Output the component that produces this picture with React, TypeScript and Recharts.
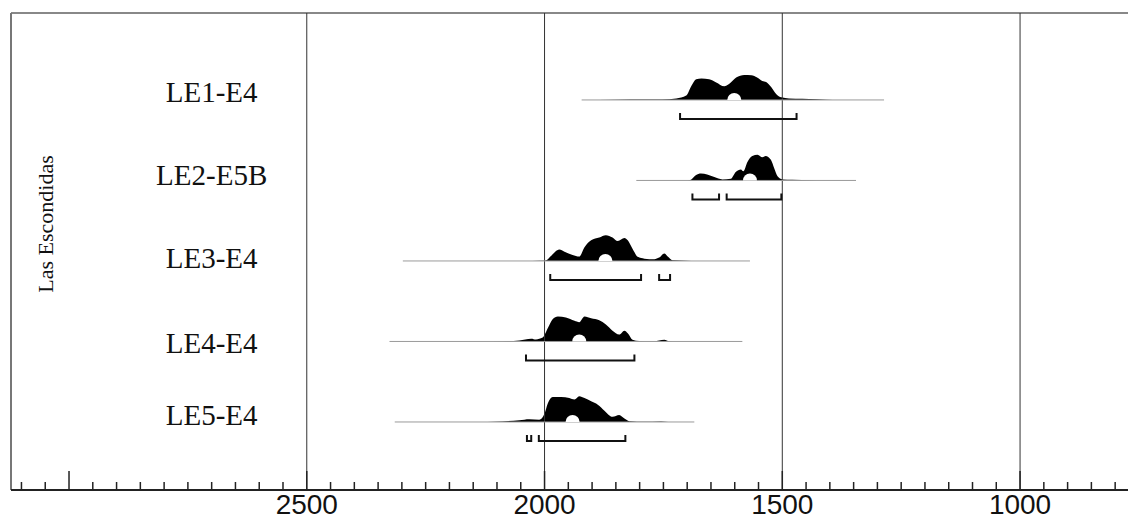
import { ComposedChart, Area, Line, Scatter, XAxis, YAxis, ReferenceLine } from 'recharts'

// rows, top to bottom
const rowNames = ['LE1-E4', 'LE2-E5B', 'LE3-E4', 'LE4-E4', 'LE5-E4']
const rowPos = [5, 4, 3, 2, 1]
const labelPos = [4.975, 3.944, 2.913, 1.857, 0.962]
const labelYear = 2700
const groupName = 'Las Escondidas'
const groupYear = 3033
const groupPos = 3.459

// calibrated date ranges (cal BP)
const spans = [[1922, 1286], [1807, 1345], [2298, 1568], [2326, 1584], [2315, 1685]]
const medians = [1601, 1568, 1872, 1927, 1941]
const ranges = [
  [[1715, 1470]],
  [[1689, 1633], [1617, 1502]],
  [[1988, 1797], [1759, 1736]],
  [[2039, 1811]],
  [[2037, 2028], [2012, 1830]],
]

// [year, relative probability]
const le1 = [[1922, 0], [1850, 0.01], [1790, 0.02], [1752, 0.02], [1723, 0.06], [1702, 0.17], [1691, 0.55], [1681, 0.8], [1670, 0.83], [1654, 0.8], [1639, 0.68], [1622, 0.53], [1612, 0.62], [1597, 0.87], [1580, 0.97], [1565, 0.96], [1553, 0.87], [1542, 0.74], [1534, 0.7], [1523, 0.49], [1513, 0.23], [1502, 0.1], [1486, 0.06], [1458, 0.05], [1429, 0.03], [1408, 0.01], [1380, 0]]
const le2 = [[1700, 0], [1692, 0.03], [1682, 0.2], [1671, 0.27], [1658, 0.23], [1643, 0.13], [1626, 0.04], [1608, 0.07], [1598, 0.33], [1587, 0.43], [1582, 0.36], [1573, 0.73], [1563, 0.95], [1552, 1.0], [1542, 0.9], [1535, 0.95], [1524, 0.8], [1517, 0.47], [1510, 0.16], [1500, 0.04], [1479, 0.03], [1440, 0.01], [1410, 0]]
const le3 = [[2040, 0], [2010, 0.01], [1997, 0.02], [1986, 0.2], [1969, 0.44], [1958, 0.36], [1941, 0.23], [1927, 0.17], [1916, 0.53], [1902, 0.8], [1885, 0.91], [1871, 1.0], [1857, 0.91], [1846, 0.77], [1832, 0.89], [1825, 0.8], [1815, 0.47], [1804, 0.16], [1790, 0.09], [1769, 0.07], [1759, 0.13], [1748, 0.29], [1741, 0.17], [1731, 0.03], [1703, 0.01], [1680, 0]]
const le4 = [[2140, 0], [2088, 0.01], [2053, 0.04], [2028, 0.11], [2018, 0.08], [2004, 0.15], [1993, 0.52], [1983, 0.86], [1972, 0.97], [1955, 0.93], [1937, 0.8], [1927, 0.75], [1916, 0.97], [1902, 0.9], [1885, 0.82], [1871, 0.66], [1857, 0.42], [1843, 0.27], [1832, 0.42], [1825, 0.32], [1815, 0.07], [1801, 0.02], [1770, 0.01], [1748, 0.07], [1738, 0.01], [1720, 0]]
const le5 = [[2120, 0], [2088, 0.02], [2053, 0.07], [2032, 0.11], [2011, 0.09], [2000, 0.33], [1993, 0.73], [1983, 0.97], [1965, 0.97], [1948, 0.93], [1937, 0.87], [1927, 1.0], [1916, 0.93], [1902, 0.8], [1888, 0.67], [1874, 0.44], [1857, 0.2], [1843, 0.27], [1832, 0.13], [1822, 0.03], [1790, 0.01], [1755, 0.02], [1740, 0]]
const densities = [le1, le2, le3, le4, le5]

const gridYears = [2500, 2000, 1500, 1000]
const labelYears = [2500, 2000, 1500, 1000]
const majorYears = [3000, 2500, 2000, 1500, 1000]
const tickYears: number[] = []
for (let y = 3100; y >= 800; y -= 50) tickYears.push(y)

const X_MIN = 773
const X_MAX = 3122
const Y_MIN = 0.155
const Y_MAX = 6.08
const PEAK = 0.32
const BRACKET_DROP = 0.236
const BRACKET_TICK = 0.075

const YearTick = ({ x, y, payload }: any) => {
  const v = payload.value
  const major = majorYears.includes(v)
  return (
    <g>
      <line x1={x} x2={x} y1={y} y2={y - (major ? 19 : 8)} stroke="#222" strokeWidth={1.5} />
      {labelYears.includes(v) && (
        <text x={x} y={y + 24} textAnchor="middle" fontFamily="'Liberation Sans', Arial" fontSize={28} fill="#111">
          {v}
        </text>
      )}
    </g>
  )
}

const Notch = ({ cx, cy }: any) => {
  const r = 7
  return <path d={`M${cx - r},${cy} A${r},${r} 0 0 1 ${cx + r},${cy} Z`} fill="#fff" />
}

const RowLabel = ({ cx, cy, payload }: any) => (
  <text x={cx} y={cy} textAnchor="middle" fontFamily="'Liberation Serif', 'Times New Roman'" fontSize={29} fill="#111">
    {payload.name}
  </text>
)

const GroupLabel = ({ cx, cy, payload }: any) => (
  <text x={cx} y={cy} transform={`rotate(-90 ${cx} ${cy})`} textAnchor="middle" fontFamily="'Liberation Serif', 'Times New Roman'" fontSize={22} fill="#111">
    {payload.name}
  </text>
)

export default function App() {
  const areaData = densities.map((pts, i) => pts.map(([year, d]) => ({ year, top: rowPos[i] + d * PEAK })))
  const baseData = spans.map(([s, e], i) => [{ year: s, y: rowPos[i] }, { year: e, y: rowPos[i] }])
  const notchData = medians.map((year, i) => ({ year, y: rowPos[i] }))
  const labelData = rowNames.map((name, i) => ({ year: labelYear, y: labelPos[i], name }))
  const brackets = ranges.flatMap((rs, i) =>
    rs.map(([s, e]) => {
      const low = rowPos[i] - BRACKET_DROP
      return [
        { year: s, y: low + BRACKET_TICK },
        { year: s, y: low },
        { year: e, y: low },
        { year: e, y: low + BRACKET_TICK },
      ]
    })
  )

  return (
    <div style={{ background: '#fff' }}>
      <style>{'body{margin:0;background:#fff}'}</style>
      <ComposedChart width={1128} height={520} margin={{ top: 13, right: 0, bottom: 0, left: 11 }}>
        <XAxis
          dataKey="year"
          type="number"
          domain={[X_MIN, X_MAX]}
          reversed
          allowDataOverflow
          ticks={tickYears}
          interval={0}
          tickSize={0}
          tickMargin={0}
          tickLine={false}
          tick={<YearTick />}
          height={30}
          axisLine={{ stroke: '#222', strokeWidth: 2 }}
        />
        <YAxis
          dataKey="y"
          type="number"
          domain={[Y_MIN, Y_MAX]}
          allowDataOverflow
          width={0}
          tick={false}
          tickLine={false}
          axisLine={{ stroke: '#777', strokeWidth: 2 }}
        />
        <ReferenceLine y={Y_MAX} stroke="#888" strokeWidth={2} />
        <ReferenceLine x={X_MAX} stroke="#777" strokeWidth={2} />
        {gridYears.map(g => (
          <ReferenceLine key={g} x={g} stroke="#333" strokeWidth={1} />
        ))}
        {baseData.map((d, i) => (
          <Line key={`b${i}`} data={d} dataKey="y" stroke="#9a9a9a" strokeWidth={1} dot={false} isAnimationActive={false} />
        ))}
        {areaData.map((d, i) => (
          <Area
            key={`a${i}`}
            data={d}
            dataKey="top"
            baseValue={rowPos[i]}
            type="monotone"
            fill="#000"
            fillOpacity={1}
            stroke="none"
            isAnimationActive={false}
          />
        ))}
        <Scatter data={notchData} shape={<Notch />} isAnimationActive={false} />
        {brackets.map((d, i) => (
          <Line key={`r${i}`} data={d} dataKey="y" type="linear" stroke="#111" strokeWidth={2} dot={false} isAnimationActive={false} />
        ))}
        <Scatter data={labelData} shape={<RowLabel />} isAnimationActive={false} />
        <Scatter data={[{ year: groupYear, y: groupPos, name: groupName }]} shape={<GroupLabel />} isAnimationActive={false} />
      </ComposedChart>
    </div>
  )
}
